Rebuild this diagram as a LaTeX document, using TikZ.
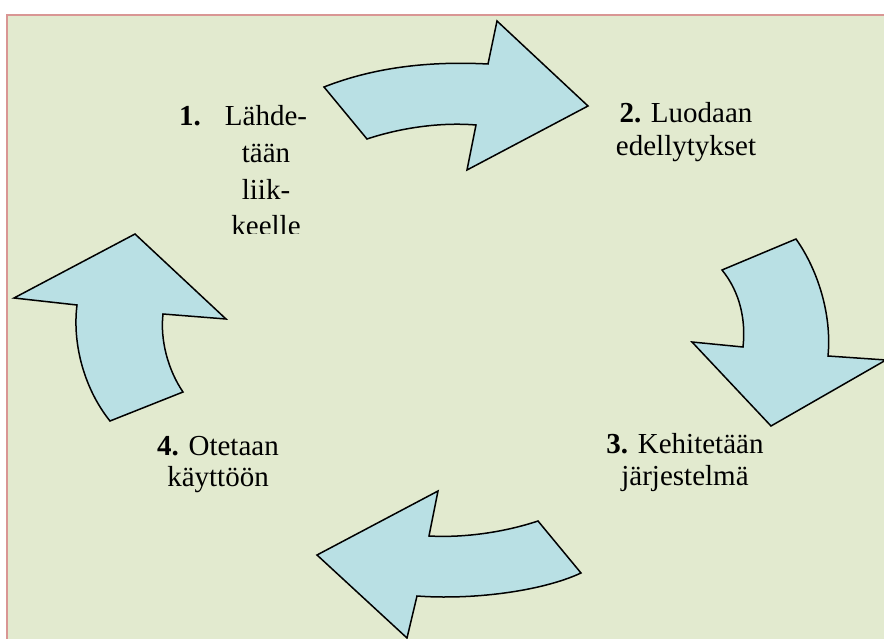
\documentclass[tikz,border=0pt]{standalone}
\usepackage{fontspec}
\setmainfont{Liberation Serif}
\definecolor{bg}{RGB}{226,234,207}
\definecolor{arrowfill}{RGB}{185,224,228}
\definecolor{framecol}{RGB}{217,150,148}
\begin{document}
\begin{tikzpicture}[x=1pt,y=-1pt,
  cyc/.style={draw=black, fill=arrowfill, line width=1.5pt, line join=miter},
  lbl/.style={inner sep=0pt, anchor=base, font=\fontsize{29}{33}\selectfont}]
\useasboundingbox (0,0) rectangle (884,639);
\fill[white] (0,0) rectangle (884,639);
\fill[bg] (7,15) rectangle (892,647);
\draw[framecol, line width=2pt] (7,647) -- (7,15) -- (892,15);

% top arrow (1 -> 2)
\draw[cyc] (324,87) .. controls (375,67) and (430,61) .. (488,64)
  -- (497,21) -- (588,106) -- (467,170) -- (476,125)
  .. controls (440,122) and (400,128) .. (367,139) -- cycle;

% right arrow (2 -> 3)
\draw[cyc] (722,270) -- (796,239)
  .. controls (818,270) and (832,315) .. (828,356)
  -- (886,360) -- (771,426) -- (692,342) -- (743,347)
  .. controls (746,320) and (740,292) .. (722,270) -- cycle;

% bottom arrow (3 -> 4)
\draw[cyc] (317,555) -- (438,491) -- (429,536)
  .. controls (465,538) and (505,532) .. (538,521)
  -- (581,573)
  .. controls (540,592) and (470,600) .. (417,596)
  -- (407,638) -- cycle;

% left arrow (4 -> 1)
\draw[cyc] (135,234) -- (14,298) -- (77,305)
  .. controls (72,345) and (85,390) .. (110,421)
  -- (183,392)
  .. controls (168,370) and (160,340) .. (163,314)
  -- (226,319) -- cycle;

% label 1
\node[lbl, anchor=base west] (n1) at (179,126) {\textbf{1.}};
\node[lbl] (t1a) at (266,126) {Lähde-};
\node[lbl] (t1b) at (266,163) {tään};
\node[lbl] (t1c) at (266,200) {liik-};
\begin{scope}
  \clip (150,150) rectangle (350,234);
  \node[lbl] (t1d) at (266,235.5) {keelle};
\end{scope}

% label 2
\node[lbl] (t2a) at (686,123) {\textbf{2.} Luodaan};
\node[lbl] (t2b) at (686,156) {edellytykset};

% label 3
\node[lbl] (t3a) at (685,453) {\textbf{3.} Kehitetään};
\node[lbl] (t3b) at (685,485) {järjestelmä};

% label 4
\node[lbl] (t4a) at (218,455) {\textbf{4.} Otetaan};
\node[lbl] (t4b) at (218,486) {käyttöön};
\end{tikzpicture}
\end{document}
